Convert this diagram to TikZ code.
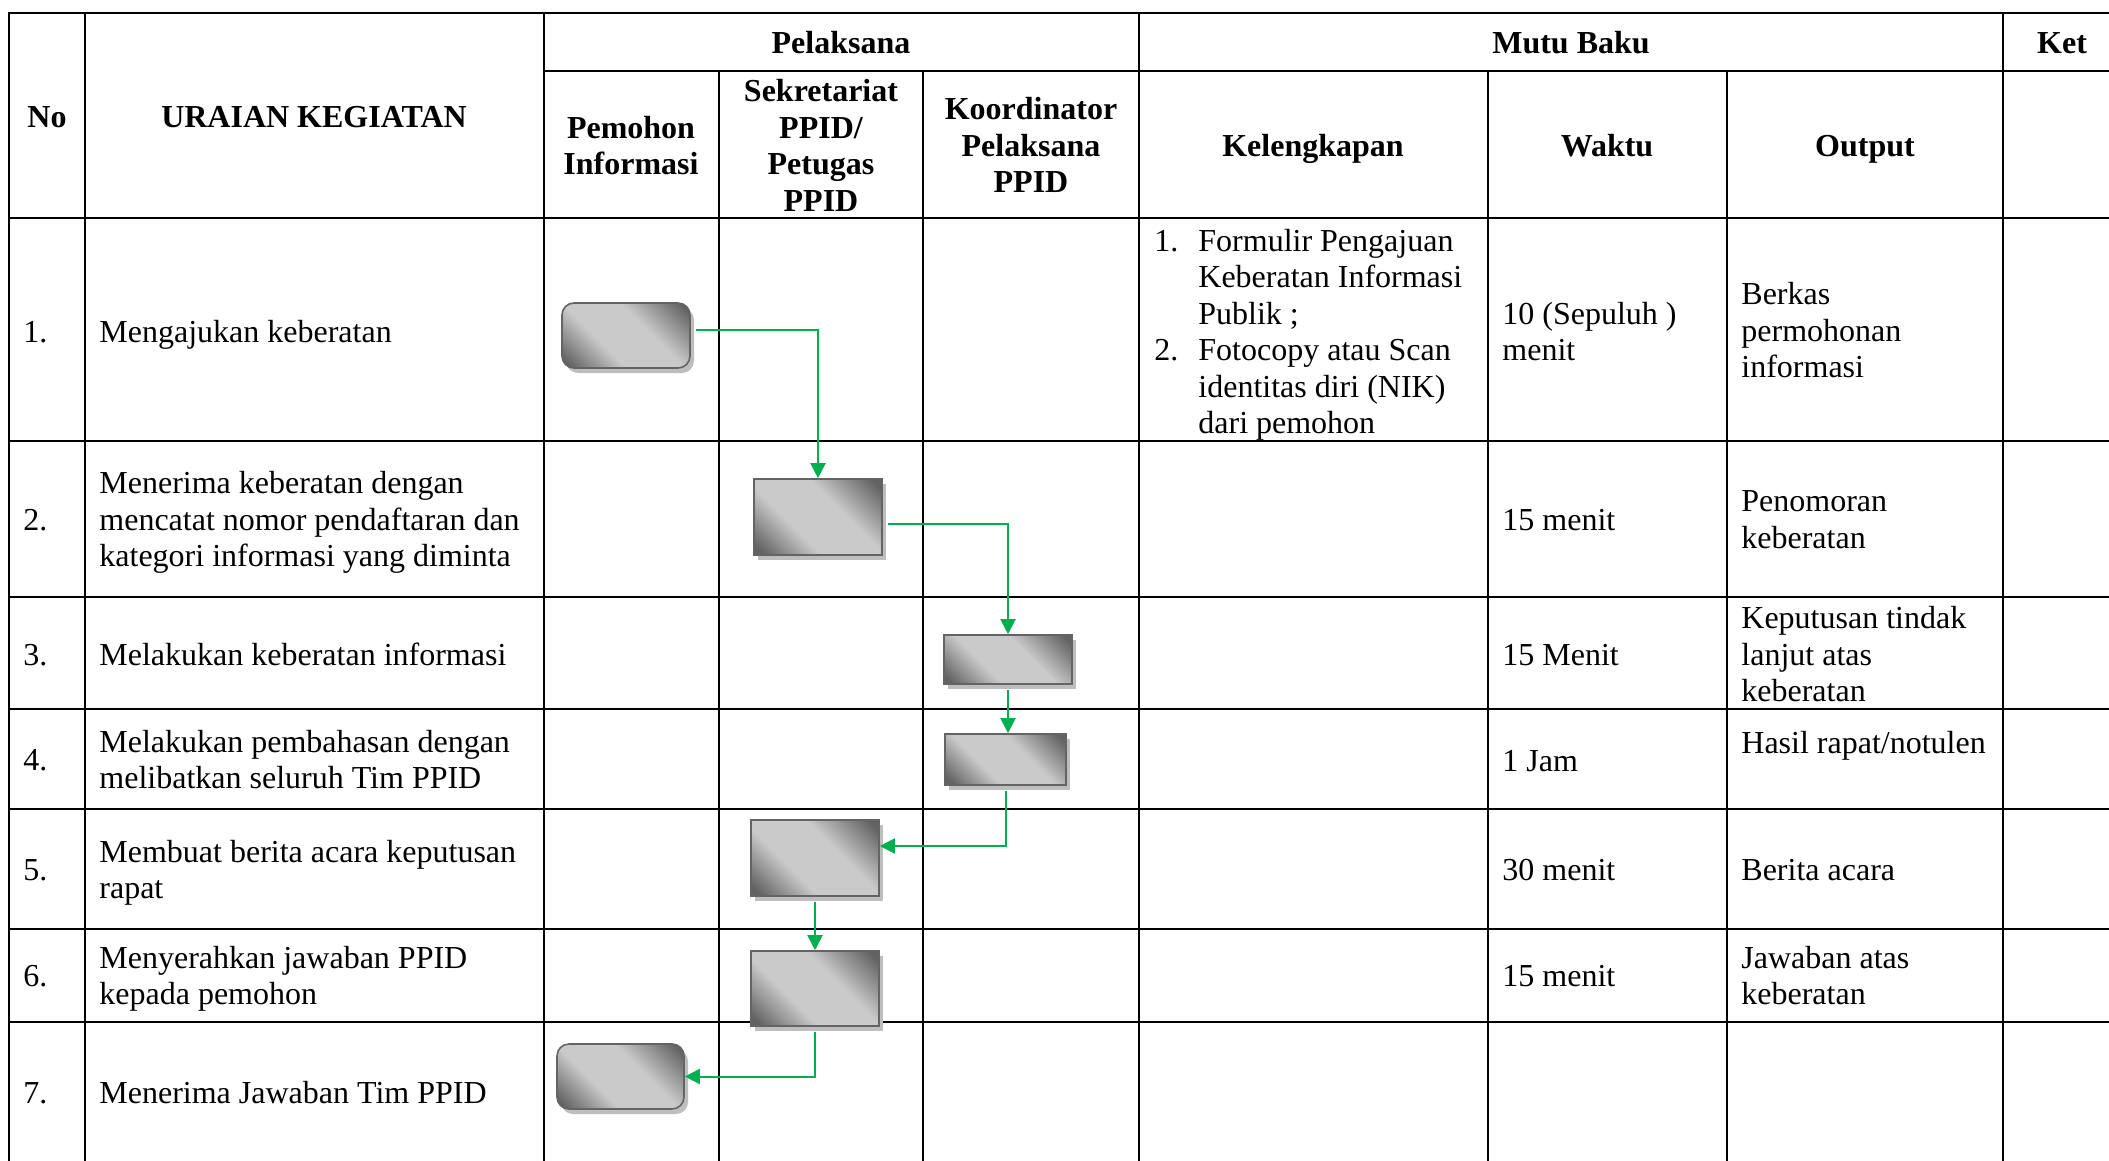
\documentclass[tikz,border=0pt]{standalone}
\usepackage{fontspec}
\setmainfont{Liberation Serif}
\usetikzlibrary{arrows.meta,shadows}
\definecolor{flowgreen}{RGB}{0,176,80}
\definecolor{boxdark}{RGB}{98,98,98}
\definecolor{boxlight}{RGB}{202,202,202}
\definecolor{boxedge}{RGB}{100,100,100}
\definecolor{boxshadow}{RGB}{190,190,190}
\pgfdeclarehorizontalshading{boxshade}{100bp}{color(0bp)=(boxdark); color(18bp)=(boxdark);
  color(38bp)=(boxlight); color(60bp)=(boxlight); color(82bp)=(boxdark); color(100bp)=(boxdark)}
\newcommand{\cellstrut}{\rule[-3.7pt]{0pt}{18.5pt}}

\begin{document}
\begin{tikzpicture}[x=0.5pt, y=-0.5pt,
  every node/.style={inner sep=0pt, font=\fontsize{16}{18.25}\selectfont,
    execute at begin node=\cellstrut, execute at end node=\cellstrut},
  hd/.style={font=\fontsize{16}{18.25}\selectfont\bfseries, align=center},
  cell/.style={anchor=west, align=left},
  stepbox/.style={draw=boxedge, line width=0.8pt, minimum width=64pt, minimum height=38pt,
    shading=boxshade, shading angle=45,
    drop shadow={shadow xshift=2pt, shadow yshift=-2.5pt, fill=boxshadow, opacity=1}},
  endbox/.style={stepbox, rounded corners=6pt, minimum height=32.5pt},
  flow/.style={draw=flowgreen, line width=1pt, shorten <=2.5pt,
    -{Triangle[width=7.5pt, length=7.5pt]}}]
  \clip (0,0) rectangle (2109,1161);
  \fill[white] (0,0) rectangle (2109,1161);
  % table grid
  \draw[line width=1pt, line cap=rect]
    (9,13) -- (2109,13) (544,71) -- (2109,71) (9,218) -- (2109,218)
    (9,441) -- (2109,441) (9,597) -- (2109,597) (9,709) -- (2109,709)
    (9,809) -- (2109,809) (9,929) -- (2109,929) (9,1022) -- (2109,1022)
    (9,13) -- (9,1161) (85,13) -- (85,1161) (544,13) -- (544,1161)
    (719,71) -- (719,1161) (923,71) -- (923,1161) (1139,13) -- (1139,1161)
    (1488,71) -- (1488,1161) (1727,71) -- (1727,1161) (2003,13) -- (2003,1161);
  % header
  \path (47,116) node[hd] (no) {No} (314,116) node[hd] (uraian) {URAIAN KEGIATAN}
    (841,42) node[hd] (pelaksana) {Pelaksana} (1571,42) node[hd] (mutu) {Mutu Baku}
    (2062,42) node[hd] (ket) {Ket};
  \path (631,149) node[hd] (pemohon) {Pemohon\\Informasi}
    (821,149) node[hd] (sekretariat) {Sekretariat\\PPID/\\Petugas\\PPID}
    (1031,149) node[hd] (koordinator) {Koordinator\\Pelaksana\\PPID}
    (1313,145) node[hd] (kelengkapan) {Kelengkapan}
    (1607,145) node[hd] (waktu) {Waktu} (1865,145) node[hd] (output) {Output};
  % kegiatan
  \path (23,331) node[cell] (n1) {1.} (99,331) node[cell] (u1) {Mengajukan keberatan}
    (23,519) node[cell] (n2) {2.}
    (99,523) node[cell] (u2) {Menerima keberatan dengan\\mencatat nomor pendaftaran dan\\kategori informasi yang diminta}
    (23,654) node[cell] (n3) {3.} (99,654) node[cell] (u3) {Melakukan keberatan informasi}
    (23,759) node[cell] (n4) {4.} (99,763) node[cell] (u4) {Melakukan pembahasan dengan\\melibatkan seluruh Tim PPID}
    (23,869) node[cell] (n5) {5.} (99,873) node[cell] (u5) {Membuat berita acara keputusan\\rapat}
    (23,975) node[cell] (n6) {6.} (99,979) node[cell] (u6) {Menyerahkan jawaban PPID\\kepada pemohon}
    (23,1092) node[cell] (n7) {7.} (99,1092) node[cell] (u7) {Menerima Jawaban Tim PPID};
  % mutu baku
  \node[cell] (k1) at (1154,335) {\begin{tabular}{@{}l@{\hspace{10pt}}l@{}}
    1. & Formulir Pengajuan\\ & Keberatan Informasi\\ & Publik ;\\
    2. & Fotocopy atau Scan\\ & identitas diri (NIK)\\ & dari pemohon\end{tabular}};
  \path (1502,335) node[cell] (w1) {10 (Sepuluh )\\menit} (1502,519) node[cell] (w2) {15 menit}
    (1502,654) node[cell] (w3) {15 Menit} (1502,760) node[cell] (w4) {1 Jam}
    (1502,869) node[cell] (w5) {30 menit} (1502,975) node[cell] (w6) {15 menit};
  \path (1741,334) node[cell] (o1) {Berkas\\permohonan\\informasi}
    (1741,523) node[cell] (o2) {Penomoran\\keberatan}
    (1741,658) node[cell] (o3) {Keputusan tindak\\lanjut atas\\keberatan}
    (1741,742) node[cell] (o4) {Hasil rapat/notulen}
    (1741,869) node[cell] (o5) {Berita acara}
    (1741,979) node[cell] (o6) {Jawaban atas\\keberatan};
  % flow
  \node[endbox] (b1) at (626,335.5) {};
  \node[stepbox] (b2) at (818,517) {};
  \node[stepbox, minimum height=24.5pt] (b3) at (1008,659.5) {};
  \node[stepbox, minimum width=60.5pt, minimum height=25.5pt] (b4) at (1005.5,759.5) {};
  \node[stepbox] (b5) at (815,858) {};
  \node[stepbox, minimum height=37.5pt] (b6) at (815,988.5) {};
  \node[endbox, minimum width=63.5pt] (b7) at (620.5,1076.5) {};
  \draw[flow] ([yshift=3pt]b1.east) -| (b2);
  \draw[flow] ([yshift=-3.5pt]b2.east) -| (b3);
  \draw[flow] (b3.south) -- (b3.south |- b4.north);
  \draw[flow] (b4) |- ([yshift=6pt]b5.east);
  \draw[flow] (b5) -- (b6);
  \draw[flow] (b6) |- (b7);
\end{tikzpicture}
\end{document}
